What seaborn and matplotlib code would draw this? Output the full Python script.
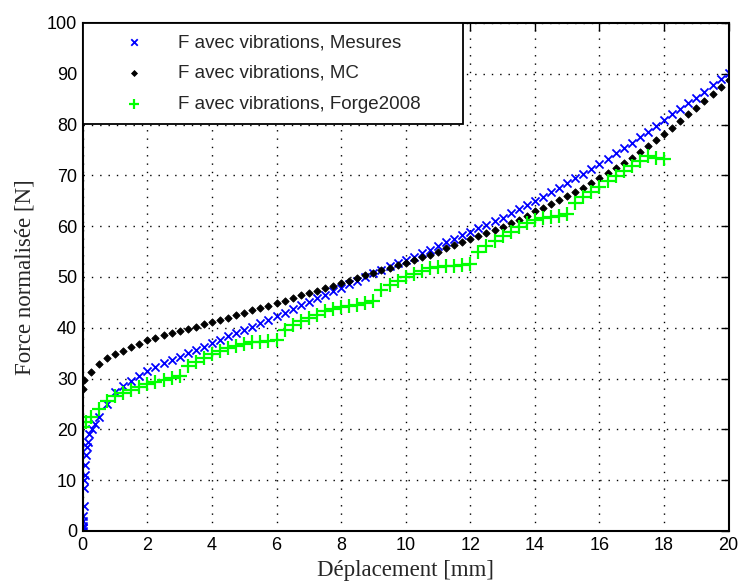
import numpy as np
import pandas as pd
import seaborn as sns
import matplotlib.pyplot as plt

# === données ===
x_mes = [0.0, 0.0, 0.0, 0.02, 0.02, 0.03, 0.05, 0.05, 0.06, 0.08, 0.1, 0.12, 0.15, 0.2, 0.28, 0.37, 0.5,
         0.75, 1.0, 1.25, 1.5, 1.75, 2.0, 2.25, 2.5, 2.75, 3.0, 3.25, 3.5, 3.75, 4.0, 4.25, 4.5, 4.75,
         5.0, 5.25, 5.5, 5.75, 6.0, 6.25, 6.5, 6.75, 7.0, 7.25, 7.5, 7.75, 8.0, 8.25, 8.5, 8.75,
         9.0, 9.25, 9.5, 9.75, 10.0, 10.25, 10.5, 10.75, 11.0, 11.25, 11.5, 11.75, 12.0, 12.25, 12.5, 12.75,
         13.0, 13.25, 13.5, 13.75, 14.0, 14.25, 14.5, 14.75, 15.0, 15.25, 15.5, 15.75, 16.0, 16.25, 16.5, 16.75,
         17.0, 17.25, 17.5, 17.75, 18.0, 18.25, 18.5, 18.75, 19.0, 19.25, 19.5, 19.75, 20.0]
f_mes = [0.0, 0.5, 1.0, 2.0, 3.0, 5.0, 8.5, 10.0, 11.0, 13.0, 15.0, 16.5, 17.5, 19.0, 20.0, 21.0, 22.5,
         25.0, 27.3, 28.5, 29.5, 30.5, 31.5, 32.2, 33.0, 33.7, 34.3, 35.0, 35.6, 36.3, 37.0, 37.6, 38.3, 38.9,
         39.6, 40.2, 40.9, 41.6, 42.3, 43.0, 43.7, 44.4, 45.1, 45.8, 46.5, 47.2, 47.9, 48.6, 49.3, 50.0,
         50.7, 51.4, 52.1, 52.7, 53.3, 54.0, 54.7, 55.4, 56.1, 56.8, 57.5, 58.2, 58.9, 59.6, 60.3, 61.0,
         61.7, 62.5, 63.3, 64.1, 65.0, 65.8, 66.7, 67.6, 68.5, 69.4, 70.3, 71.3, 72.3, 73.3, 74.3, 75.3,
         76.4, 77.5, 78.6, 79.7, 80.9, 82.0, 83.1, 84.2, 85.3, 86.5, 87.7, 88.9, 90.1]

x_mc = [0.0, 0.05, 0.25, 0.5, 0.75, 1.0, 1.25, 1.5, 1.75, 2.0, 2.25, 2.5, 2.75, 3.0, 3.25, 3.5, 3.75,
        4.0, 4.25, 4.5, 4.75, 5.0, 5.25, 5.5, 5.75, 6.0, 6.25, 6.5, 6.75, 7.0, 7.25, 7.5, 7.75,
        8.0, 8.25, 8.5, 8.75, 9.0, 9.25, 9.5, 9.75, 10.0, 10.25, 10.5, 10.75, 11.0, 11.25, 11.5, 11.75,
        12.0, 12.25, 12.5, 12.75, 13.0, 13.25, 13.5, 13.75, 14.0, 14.25, 14.5, 14.75, 15.0, 15.25, 15.5, 15.75,
        16.0, 16.25, 16.5, 16.75, 17.0, 17.25, 17.5, 17.75, 18.0, 18.25, 18.5, 18.75, 19.0, 19.25, 19.5, 19.75, 20.0]
f_mc = [28.0, 29.8, 31.2, 32.8, 34.0, 34.8, 35.5, 36.2, 36.9, 37.5, 38.0, 38.5, 39.0, 39.4, 39.8, 40.2, 40.7,
        41.1, 41.6, 42.0, 42.5, 43.0, 43.4, 43.9, 44.3, 44.8, 45.3, 45.8, 46.4, 46.8, 47.3, 47.8, 48.3,
        48.8, 49.3, 49.8, 50.3, 50.8, 51.3, 51.8, 52.3, 52.8, 53.3, 53.9, 54.4, 55.0, 55.6, 56.2, 56.8,
        57.4, 58.0, 58.6, 59.2, 59.9, 60.6, 61.3, 62.0, 62.9, 63.6, 64.3, 65.1, 65.9, 66.7, 67.6, 68.5,
        69.5, 70.5, 71.5, 72.5, 73.5, 74.6, 75.8, 77.0, 78.2, 79.4, 80.7, 82.0, 83.3, 84.6, 86.0, 87.4, 88.8]

x_forge = [0.0, 0.1, 0.25, 0.5, 0.75, 1.0, 1.25, 1.5, 1.75, 2.0, 2.25, 2.5, 2.75, 3.0, 3.25, 3.5, 3.75,
           4.0, 4.25, 4.5, 4.75, 5.0, 5.25, 5.5, 5.75, 6.0, 6.25, 6.5, 6.75, 7.0, 7.25, 7.5, 7.75,
           8.0, 8.25, 8.5, 8.75, 9.0, 9.25, 9.5, 9.75, 10.0, 10.25, 10.5, 10.75, 11.0, 11.25, 11.5, 11.75,
           12.0, 12.25, 12.5, 12.75, 13.0, 13.25, 13.5, 13.75, 14.0, 14.25, 14.5, 14.75, 15.0, 15.25, 15.5, 15.75,
           16.0, 16.25, 16.5, 16.75, 17.0, 17.25, 17.5, 17.75, 18.0]
f_forge = [20.5, 21.5, 22.5, 24.0, 25.5, 26.5, 27.2, 27.8, 28.4, 29.0, 29.4, 29.8, 30.2, 30.6, 32.5, 33.3, 34.1,
           34.9, 35.5, 36.0, 36.5, 36.9, 37.1, 37.2, 37.3, 37.5, 39.5, 40.5, 41.3, 42.0, 42.6, 43.2, 43.7,
           44.0, 44.3, 44.5, 44.8, 45.2, 47.5, 48.4, 49.2, 49.9, 50.5, 51.2, 51.8, 52.0, 52.1, 52.2, 52.3,
           52.5, 55.0, 56.0, 57.0, 58.0, 58.9, 59.8, 60.6, 61.3, 61.6, 61.8, 62.0, 62.3, 64.5, 65.8, 66.8,
           67.8, 68.8, 69.8, 70.8, 71.8, 72.8, 73.8, 73.5, 73.3]

labels = ["F avec vibrations, Mesures", "F avec vibrations, MC", "F avec vibrations, Forge2008"]

sns.set_style("white")
plt.rcParams["font.family"] = ["Liberation Sans", "DejaVu Sans"]

fig = plt.figure(figsize=(7.39, 5.88), dpi=100)
ax = fig.add_axes([0.112, 0.097, 0.874, 0.864])

# grille pointillée MATLAB, sous les marqueurs
ax.set_axisbelow(True)
ax.grid(True, linestyle=(0, (1, 5)), color="black", linewidth=1.0)

sns.scatterplot(x=x_mes, y=f_mes, ax=ax, marker="x", color="#0000ff", s=34, linewidth=1.3, label=labels[0])
sns.scatterplot(x=x_mc, y=f_mc, ax=ax, marker="D", color="black", edgecolor="black", s=14, linewidth=0.6,
                label=labels[1])
sns.scatterplot(x=x_forge, y=f_forge, ax=ax, marker="+", color="#00ff00", s=95, linewidth=1.6, label=labels[2])

ax.set_xlim(0, 20)
ax.set_ylim(0, 100)
ax.set_xticks(range(0, 21, 2))
ax.set_yticks(range(0, 101, 10))
ax.tick_params(direction="in", top=True, right=True, length=6, width=1, labelsize=13, colors="black", pad=4)
for s in ax.spines.values():
    s.set_color("black")
    s.set_linewidth(1.5)

ax.set_xlabel("Déplacement [mm]", family="Liberation Serif", fontsize=16.5, labelpad=5)
ax.set_ylabel("Force normalisée [N]", family="Liberation Serif", fontsize=16.5, labelpad=8)

leg = ax.legend(loc="upper left", bbox_to_anchor=(0, 0.797, 0.589, 0.203), mode="expand",
                borderaxespad=0, fancybox=False, framealpha=1, edgecolor="black",
                fontsize=13.5, handletextpad=0.2, borderpad=0.6, labelspacing=0.72,
                handlelength=4.3, markerscale=0.8)
leg.get_frame().set_linewidth(1.3)

plt.savefig("out.png", dpi=100)
plt.close()
